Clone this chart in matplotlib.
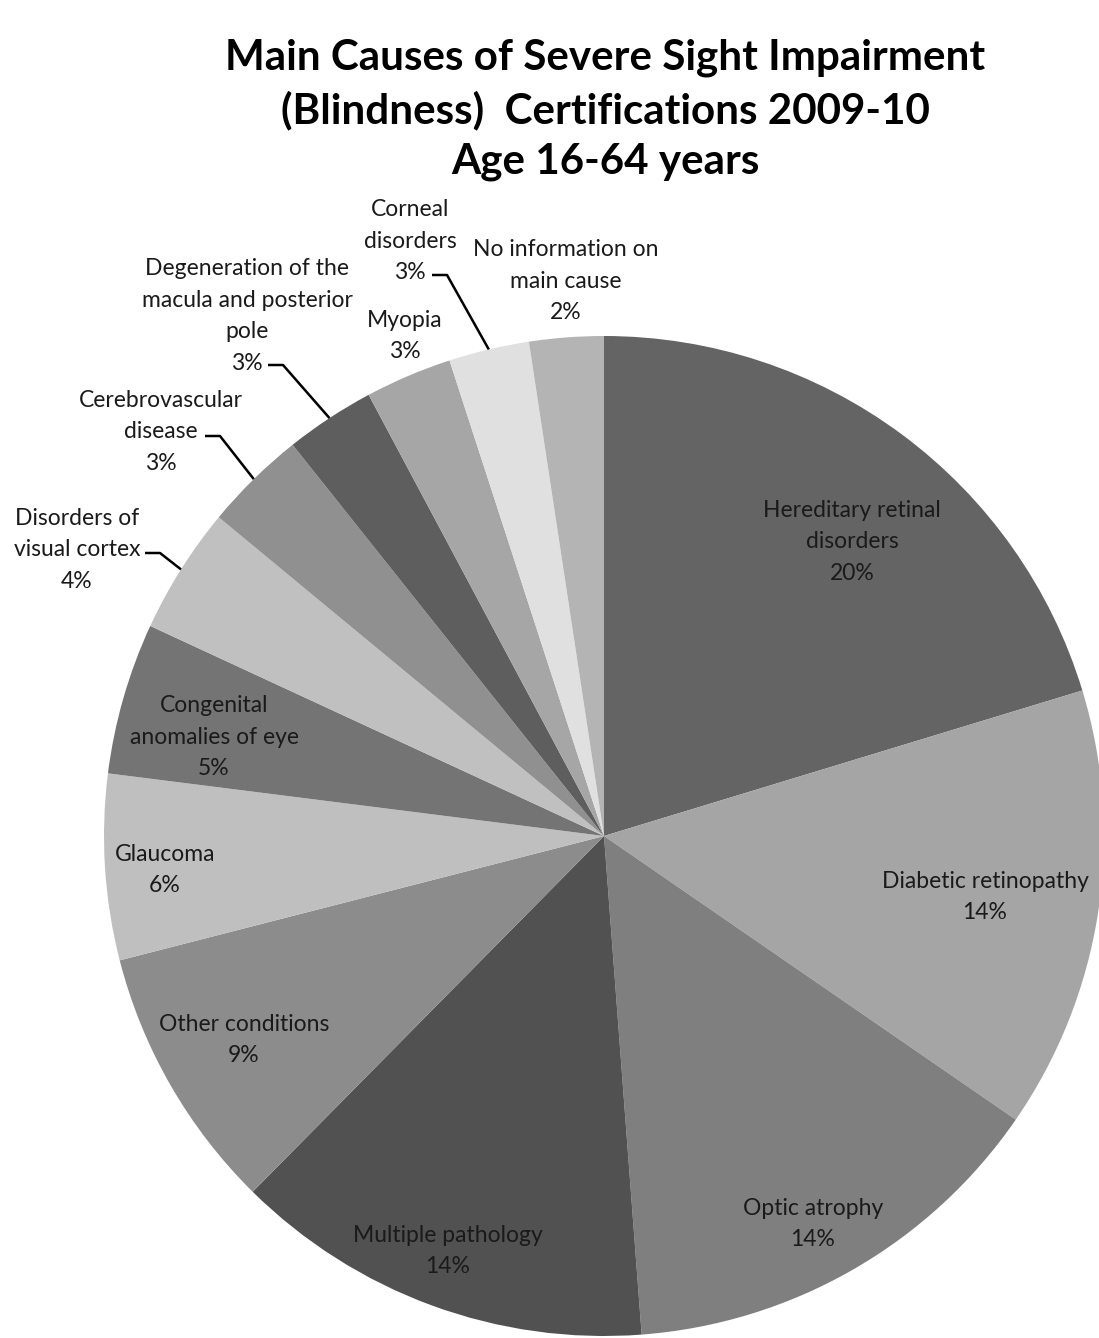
import numpy as np
import matplotlib
matplotlib.use('Agg')
import matplotlib.pyplot as plt

# --- Data (percent of certifications, clockwise from 12 o'clock) ---
causes = [
    "Hereditary retinal\ndisorders",
    "Diabetic retinopathy",
    "Optic atrophy",
    "Multiple pathology",
    "Other conditions",
    "Glaucoma",
    "Congenital\nanomalies of eye",
    "Disorders of\nvisual cortex",
    "Cerebrovascular\ndisease",
    "Degeneration of the\nmacula and posterior\npole",
    "Myopia",
    "Corneal\ndisorders",
    "No information on\nmain cause",
]
shares = [20.3, 14.3, 14.2, 13.6, 8.6, 6.0, 4.9, 4.1, 3.3, 2.9, 2.8, 2.6, 2.4]
greys = ["#646464", "#a5a5a5", "#7f7f7f", "#515151", "#8c8c8c", "#bfbfbf",
         "#747474", "#c0c0c0", "#909090", "#5e5e5e", "#a6a6a6", "#e0e0e0", "#b4b4b4"]

# label centres in pixel space (x, y from top)
label_pos = [(852, 542), (985, 897), (813, 1224), (448, 1251), (244, 1040),
             (165, 870), (214, 737), (77, 550), (161, 432), (247, 316),
             (405, 336), (410, 241), (566, 281)]
# leader lines: start of the short horizontal tick beside the label (pixel space)
leaders = {7: (145, 553), 8: (205, 436), 9: (268, 365), 11: (432, 275)}

W, H = 1099, 1338
CX, CY, R = 604, 836, 500

plt.rcParams['font.family'] = ['Lato', 'DejaVu Sans']

fig = plt.figure(figsize=(W / 100, H / 100), dpi=100)
ax = fig.add_axes([0, 0, 1, 1])

wedges, _ = ax.pie(shares, colors=greys, startangle=90, counterclock=False,
                   center=(CX, H - CY), radius=R,
                   wedgeprops=dict(linewidth=0, antialiased=True))
ax.set_xlim(0, W)
ax.set_ylim(0, H)
ax.set_aspect('equal')
ax.axis('off')

for i, (name, val) in enumerate(zip(causes, shares)):
    x, y = label_pos[i]
    ax.text(x, H - y, f"{name}\n{val:.0f}%", ha='center', va='center',
            fontsize=16.5, linespacing=1.62, color='#1a1a1a')

for i, (sx, sy) in leaders.items():
    w = wedges[i]
    mid = np.deg2rad((w.theta1 + w.theta2) / 2)
    ex = CX + R * np.cos(mid)
    ey = (H - CY) + R * np.sin(mid)
    ax.plot([sx, sx + 15, ex], [H - sy, H - sy, ey], color='black', lw=1.8,
            solid_capstyle='butt')

title = "Main Causes of Severe Sight Impairment\n(Blindness)  Certifications 2009-10\nAge 16-64 years"
fig.text(605 / W, 1 - 110 / H, title, ha='center', va='center',
         fontsize=30.3, fontweight='bold', linespacing=1.4)

fig.savefig("out.png", dpi=100)
